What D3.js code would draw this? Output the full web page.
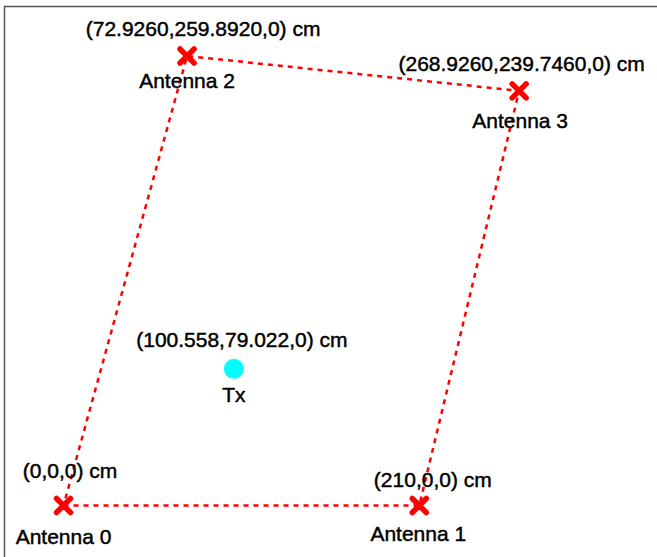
<!DOCTYPE html>
<html>
<head>
<meta charset="utf-8">
<script src="https://cdn.jsdelivr.net/npm/d3@7"></script>
<style>
  html, body { margin: 0; padding: 0; background: #fff; }
  text { font-family: "Liberation Sans", Arial, sans-serif; font-size: 21px; fill: #000; stroke: #000; stroke-width: 0.45px; }
</style>
</head>
<body>
<div id="chart"></div>
<script>
// Antenna positions in cm
const antennaNames = ['Antenna 0', 'Antenna 1', 'Antenna 2', 'Antenna 3'];
const antennaX = [0, 210, 72.926, 268.926];
const antennaY = [0, 0, 259.892, 239.746];
const antennaLabels = ['(0,0,0) cm', '(210,0,0) cm', '(72.9260,259.8920,0) cm', '(268.9260,239.7460,0) cm'];
// order in which the dotted outline joins the antennas
const outlineOrder = [0, 1, 3, 2, 0];

// Transmitter
const txName = 'Tx';
const txX = [100.558];
const txY = [79.022];
const txLabel = '(100.558,79.022,0) cm';

// label placement (px) relative to marker: coordinate label, name label
const coordDx = [6.5, 13.5, 16, 2.5];
const coordDy = [-27.5, -18.5, -20, -20];
const nameDx = [0, -1, 0, 1];
const nameDy = [38.5, 35.5, 32, 37];
const txCoordDx = 8, txCoordDy = -22, txNameDy = 33;

const W = 657;
const H = 557;

const scaleX = d3.scaleLinear().domain([0, 210]).range([63.5, 419.3]);
const scaleY = d3.scaleLinear().domain([0, 259.892]).range([505.5, 56]);

const svg = d3.select('#chart')
  .append('svg')
  .attr('width', W)
  .attr('height', H);

// frame
svg.append('rect')
  .attr('x', 4.5)
  .attr('y', 6.5)
  .attr('width', 700)
  .attr('height', 600)
  .attr('fill', 'none')
  .attr('stroke', '#555')
  .attr('stroke-width', 1.5);

// dotted outline
const line = d3.line()
  .x(i => scaleX(antennaX[i]))
  .y(i => scaleY(antennaY[i]));

svg.append('path')
  .datum(outlineOrder)
  .attr('d', line)
  .attr('fill', 'none')
  .attr('stroke', '#ff0000')
  .attr('stroke-width', 2.5)
  .attr('stroke-dasharray', '5,5');

// antenna markers
const arm = 7;
const ants = svg.selectAll('g.antenna')
  .data(antennaNames.map((n, i) => i))
  .enter()
  .append('g')
  .attr('class', 'antenna')
  .attr('transform', i => `translate(${scaleX(antennaX[i])}, ${scaleY(antennaY[i])})`);

ants.append('path')
  .attr('d', `M${-arm},${-arm}L${arm},${arm}M${-arm},${arm}L${arm},${-arm}`)
  .attr('stroke', '#ff0000')
  .attr('stroke-width', 5.5)
  .attr('stroke-linecap', 'round');

ants.append('text')
  .attr('text-anchor', 'middle')
  .attr('x', i => coordDx[i])
  .attr('y', i => coordDy[i])
  .text(i => antennaLabels[i]);

ants.append('text')
  .attr('text-anchor', 'middle')
  .attr('x', i => nameDx[i])
  .attr('y', i => nameDy[i])
  .text(i => antennaNames[i]);

// transmitter
const tx = svg.append('g')
  .attr('transform', `translate(${scaleX(txX[0])}, ${scaleY(txY[0])})`);

tx.append('circle')
  .attr('r', 10)
  .attr('fill', '#00ffff');

tx.append('text')
  .attr('text-anchor', 'middle')
  .attr('x', txCoordDx)
  .attr('y', txCoordDy)
  .text(txLabel);

tx.append('text')
  .attr('text-anchor', 'middle')
  .attr('y', txNameDy)
  .text(txName);
</script>
</body>
</html>
